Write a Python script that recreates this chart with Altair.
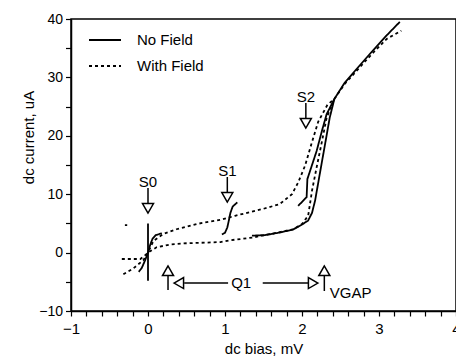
import altair as alt
import pandas as pd

FONT = "Liberation Sans"

# ---------------- data ----------------
# No Field (solid) pieces
nf_super_x = [0.0, 0.0]
nf_super_y = [-4.8, 5.0]
nf_s0_x = [-0.12, -0.08, -0.04, 0.0, 0.03, 0.06, 0.10, 0.18]
nf_s0_y = [-3.3, -2.6, -1.4, 0.0, 1.4, 2.4, 3.0, 3.3]
nf_s1_x = [0.96, 1.00, 1.03, 1.05, 1.07, 1.10, 1.16]
nf_s1_y = [3.1, 3.4, 4.3, 5.5, 6.8, 7.9, 8.6]
nf_main_x = [1.35, 1.52, 1.74, 1.89, 2.00, 2.08, 2.13, 2.17, 2.23, 2.30, 2.36, 2.42, 2.55, 2.70, 2.90, 3.10, 3.27]
nf_main_y = [2.9, 3.0, 3.5, 4.0, 4.8, 5.5, 6.8, 8.9, 13.4, 18.6, 23.1, 26.3, 29.0, 31.3, 34.3, 37.2, 39.5]
nf_s2_x = [1.95, 2.06, 2.07, 2.19, 2.26, 2.32, 2.42]
nf_s2_y = [8.0, 9.5, 12.6, 17.4, 20.9, 23.7, 26.3]
nf_dot_x = [-0.30, -0.27]
nf_dot_y = [4.7, 4.7]

# With Field (dashed) pieces
wf_upper_x = [-0.32, -0.19, -0.06, 0.0, 0.07, 0.20, 0.37, 0.63, 0.94, 1.13, 1.50, 1.71, 1.87, 1.95,
              2.04, 2.12, 2.21, 2.33, 2.42, 2.55, 2.70, 2.90, 3.10, 3.29]
wf_upper_y = [-3.7, -2.7, -1.3, 0.0, 2.0, 3.2, 4.0, 4.9, 5.6, 6.3, 7.5, 8.3, 10.0, 12.0,
              14.9, 18.5, 22.4, 25.3, 26.3, 28.8, 31.0, 33.9, 36.6, 38.0]
wf_lower_x = [-0.34, -0.10, -0.05, 0.0, 0.11, 0.29, 0.50, 0.94, 1.06, 1.37, 1.60, 1.89, 2.00,
              2.08, 2.13, 2.19, 2.26, 2.32, 2.42]
wf_lower_y = [-1.1, -1.1, -0.6, 0.0, 0.9, 1.4, 1.6, 1.8, 2.1, 2.6, 3.2, 4.0, 4.9,
              6.3, 10.6, 14.6, 19.1, 23.1, 26.3]

series_names = ["No Field", "With Field"]

# annotations: arrow stems / connector lines (x1, y1) -> (x2, y2)
stem_x1 = [0.0, 1.03, 2.05, 0.26, 2.29, 0.47, 1.49]
stem_y1 = [11.06, 12.95, 25.62, -3.92, -3.92, -5.21, -5.21]
stem_x2 = [0.0, 1.03, 2.05, 0.26, 2.29, 1.04, 2.09]
stem_y2 = [8.41, 10.29, 22.96, -6.40, -6.58, -5.21, -5.21]

# arrow heads (open triangles)
head_x = [0.0, 1.03, 2.05, 0.26, 2.29, 0.40, 2.145]
head_y = [7.59, 9.47, 22.15, -3.11, -3.11, -5.21, -5.21]
head_shape = ["triangle-down", "triangle-down", "triangle-down", "triangle-up", "triangle-up",
              "triangle-left", "triangle-right"]

# annotation labels
lab_x = [0.0, 1.03, 2.05, 1.21]
lab_y = [12.1, 13.97, 26.64, -5.21]
lab_text = ["S0", "S1", "S2", "Q1"]
gap_x = [2.36]
gap_y = [-6.92]
gap_text = ["VGAP"]

x_domain = [-1, 4]
y_domain = [-10, 40]
# tick positions (major ones labelled, minor ones unlabelled)
x_ticks = [-1, -0.8, -0.6, -0.4, -0.2, 0, 0.2, 0.4, 0.6, 0.8, 1, 1.2, 1.4, 1.6, 1.8,
           2, 2.2, 2.4, 2.6, 2.8, 3, 3.2, 3.4, 3.6, 3.8, 4]
y_ticks = [-10, -5, 0, 5, 10, 15, 20, 25, 30, 35, 40]

# ---------------- tables ----------------
rows = []
def add(series, seg, xs, ys):
    for i, (xv, yv) in enumerate(zip(xs, ys)):
        rows.append({"series": series, "seg": seg, "i": i, "x": xv, "y": yv})

add("No Field", "nf_super", nf_super_x, nf_super_y)
add("No Field", "nf_s0", nf_s0_x, nf_s0_y)
add("No Field", "nf_s1", nf_s1_x, nf_s1_y)
add("No Field", "nf_main", nf_main_x, nf_main_y)
add("No Field", "nf_s2", nf_s2_x, nf_s2_y)
add("No Field", "nf_dot", nf_dot_x, nf_dot_y)
add("With Field", "wf_upper", wf_upper_x, wf_upper_y)
add("With Field", "wf_lower", wf_lower_x, wf_lower_y)
curves = pd.DataFrame(rows)

stems = pd.DataFrame({"x": stem_x1, "y": stem_y1, "x2": stem_x2, "y2": stem_y2})
heads = pd.DataFrame({"x": head_x, "y": head_y, "shape": head_shape})
labs = pd.DataFrame({"x": lab_x, "y": lab_y, "text": lab_text})
gap = pd.DataFrame({"x": gap_x, "y": gap_y, "text": gap_text})

xs = alt.Scale(domain=x_domain, nice=False, zero=False)
ys = alt.Scale(domain=y_domain, nice=False, zero=False)

x_axis = alt.Axis(values=x_ticks, title="dc bias, mV", tickSize=5,
                  labelExpr="abs(datum.value - round(datum.value)) < 0.001 ? format(datum.value, 'd') : ''",
                  labelFlush=False, labelOverlap=False, labelPadding=5, labelFontSize=15,
                  titleFontSize=15, titleY=42, titleBaseline="alphabetic", orient="bottom")
y_axis = alt.Axis(values=y_ticks, title="dc current, uA", tickSize=5.5,
                  labelExpr="abs(datum.value % 10) < 0.001 ? format(datum.value, 'd') : ''",
                  labelFlush=False, labelOverlap=False, labelPadding=3, labelFontSize=14,
                  titleFontSize=15, titleX=-38, titleY=118, titleAngle=270,
                  titleBaseline="alphabetic", titleAlign="center", orient="left")

curve_layer = alt.Chart(curves).mark_line(color="black", strokeWidth=1.8, strokeCap="butt").encode(
    x=alt.X("x:Q", scale=xs, axis=x_axis),
    y=alt.Y("y:Q", scale=ys, axis=y_axis),
    strokeDash=alt.StrokeDash(
        "series:N",
        scale=alt.Scale(domain=series_names, range=[[1, 0], [3, 3]]),
        legend=alt.Legend(title=None, orient="none", legendX=17, legendY=4,
                          symbolType="stroke", symbolSize=1024, symbolStrokeWidth=1.8,
                          symbolStrokeColor="black", labelFontSize=15, labelFont=FONT,
                          labelColor="black", labelOffset=15, rowPadding=1, padding=0,
                          labelLimit=200),
    ),
    detail="seg:N",
    order="i:Q",
)

stem_layer = alt.Chart(stems).mark_rule(color="black", strokeWidth=1.5).encode(
    x=alt.X("x:Q", scale=xs, axis=None),
    x2="x2:Q",
    y=alt.Y("y:Q", scale=ys, axis=None),
    y2="y2:Q",
)

head_layer = alt.Chart(heads).mark_point(filled=True, fill="white", stroke="black", strokeWidth=1.5,
                                         size=121, opacity=1, fillOpacity=1).encode(
    x=alt.X("x:Q", scale=xs, axis=None),
    y=alt.Y("y:Q", scale=ys, axis=None),
    shape=alt.Shape("shape:N", scale=None),
)

lab_layer = alt.Chart(labs).mark_text(font=FONT, fontSize=15, color="black", align="center",
                                      baseline="middle").encode(
    x=alt.X("x:Q", scale=xs, axis=None),
    y=alt.Y("y:Q", scale=ys, axis=None),
    text="text:N",
)

gap_layer = alt.Chart(gap).mark_text(font=FONT, fontSize=15, color="black", align="left",
                                     baseline="middle").encode(
    x=alt.X("x:Q", scale=xs, axis=None),
    y=alt.Y("y:Q", scale=ys, axis=None),
    text="text:N",
)

chart = alt.layer(curve_layer, stem_layer, head_layer, lab_layer, gap_layer).resolve_axis(
    x="independent", y="independent"
).properties(
    width=385, height=292,
    padding={"left": 71, "top": 19, "right": 0, "bottom": 45},
    autosize=alt.AutoSizeParams(type="none"),
    background="white",
).configure_view(
    stroke="black", strokeWidth=1.5
).configure_axis(
    grid=False, domainColor="black", domainWidth=1.5, tickColor="black", tickWidth=1.2,
    labelColor="black", titleColor="black", labelFont=FONT, titleFont=FONT,
    titleFontWeight="normal",
)

chart.save("out.html", embed_options={"renderer": "svg", "actions": False})
